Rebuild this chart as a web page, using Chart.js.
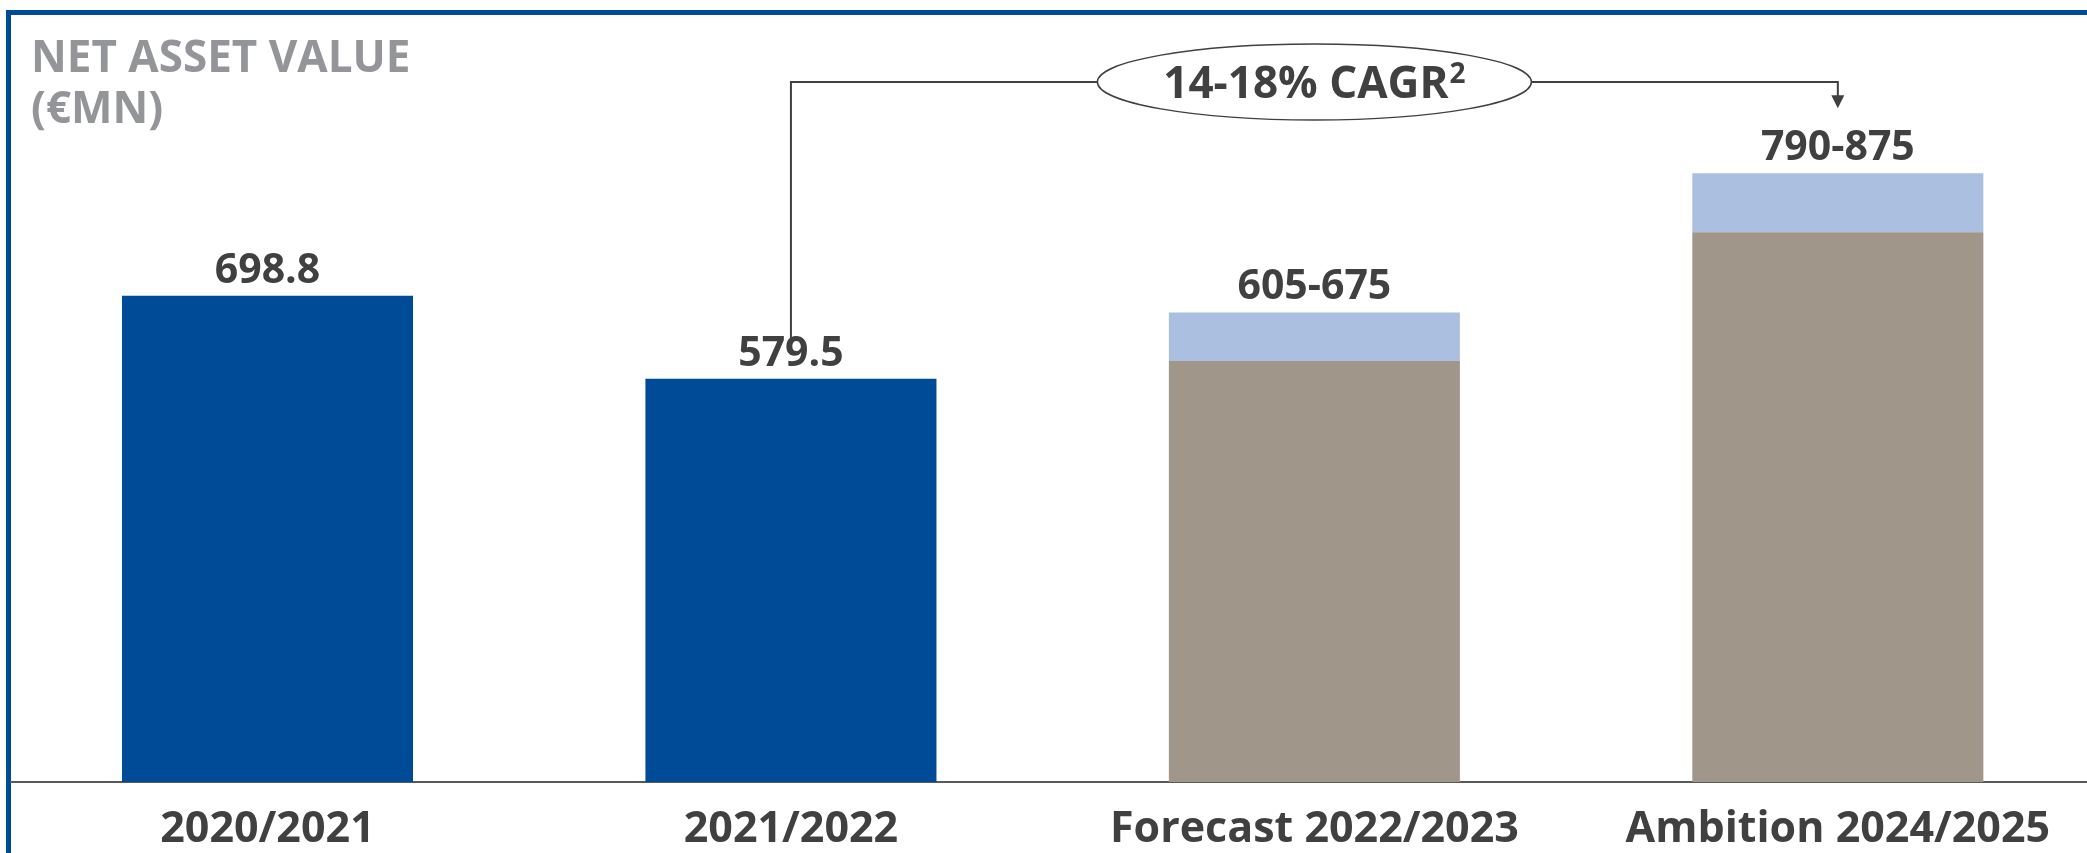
<!DOCTYPE html>
<html>
<head>
<meta charset="utf-8">
<title>Net asset value</title>
<script src="https://cdn.jsdelivr.net/npm/chart.js@4.4.0/dist/chart.umd.min.js"></script>
<style>
  html, body { margin: 0; padding: 0; background: #fff; overflow: hidden; }
  #wrap { position: relative; width: 2087px; height: 853px; overflow: hidden; }
  #frame { position: absolute; left: 6px; top: 10px; width: 2300px; height: 1000px;
           border-left: 5px solid #004b98; border-top: 5px solid #004b98; }
  #navChart { position: absolute; left: 0; top: 0; }
</style>
</head>
<body>
<div id="wrap">
  <div id="frame"></div>
  <!-- taller than the wrapper so the category labels sit low under the baseline -->
  <canvas id="navChart" width="2087" height="877"></canvas>
</div>
<script>
const categories = ["2020/2021", "2021/2022", "Forecast 2022/2023", "Ambition 2024/2025"];
const reported = [698.8, 579.5, null, null];
const rangeLow = [null, null, 605, 790];
const rangeHigh = [null, null, 675, 875];
const titleLines = ["NET ASSET VALUE", "(€MN)"];
const cagrText = "14-18% CAGR";
const cagrNote = "2";

const FONT = "'Open Sans', 'Noto Sans', sans-serif";
const DARK = "#404040";

function point(arr, i) { return { x: i, y: arr[i] }; }
const idx = categories.map((c, i) => i);

function labelFor(i) {
    if (reported[i] != null) return reported[i].toFixed(1);
    return rangeLow[i] + "-" + rangeHigh[i];
}

// value labels above each stack
const barLabels = {
    id: "barLabels",
    afterDatasetsDraw(chart) {
        const ctx = chart.ctx;
        ctx.save();
        ctx.font = "bold 41px " + FONT;
        ctx.fillStyle = DARK;
        ctx.textAlign = "center";
        ctx.textBaseline = "alphabetic";
        idx.forEach(i => {
            const ds = reported[i] != null ? 0 : 2;
            const bar = chart.getDatasetMeta(ds).data[i];
            ctx.fillText(labelFor(i), bar.x, bar.y - 13);
        });
        ctx.restore();
    }
};

// heading in the top left corner
const heading = {
    id: "heading",
    afterDraw(chart) {
        const ctx = chart.ctx;
        ctx.save();
        ctx.font = "bold 44px " + FONT;
        ctx.fillStyle = "#939598";
        ctx.textBaseline = "alphabetic";
        ctx.fillText(titleLines[0], 31, 72);
        ctx.fillText(titleLines[1], 31, 123);
        ctx.restore();
    }
};

// growth bracket from 2021/2022 to the 2024/2025 ambition
const cagrBracket = {
    id: "cagrBracket",
    afterDatasetsDraw(chart) {
        const ctx = chart.ctx;
        const xs = chart.scales.x, ys = chart.scales.y;
        const lineY = 82;
        const fromX = xs.getPixelForValue(1);
        const toX = xs.getPixelForValue(3);
        const midX = xs.getPixelForValue(2);
        const fromY = ys.getPixelForValue(reported[1]) - 38;
        const tipY = ys.getPixelForValue(rangeHigh[3]) - 65;

        ctx.save();
        ctx.strokeStyle = DARK;
        ctx.lineWidth = 2;
        ctx.beginPath();
        ctx.moveTo(fromX, fromY);
        ctx.lineTo(fromX, lineY);
        ctx.lineTo(toX, lineY);
        ctx.lineTo(toX, tipY - 12);
        ctx.stroke();

        ctx.fillStyle = DARK;
        ctx.beginPath();
        ctx.moveTo(toX - 6.5, tipY - 13);
        ctx.lineTo(toX + 6.5, tipY - 13);
        ctx.lineTo(toX, tipY);
        ctx.closePath();
        ctx.fill();

        ctx.beginPath();
        ctx.ellipse(midX, lineY, 217, 38, 0, 0, Math.PI * 2);
        ctx.fillStyle = "#fff";
        ctx.fill();
        ctx.lineWidth = 1.5;
        ctx.stroke();

        ctx.font = "bold 44px " + FONT;
        const wMain = ctx.measureText(cagrText).width;
        ctx.font = "bold 28px " + FONT;
        const wSup = ctx.measureText(cagrNote).width;
        const startX = midX - (wMain + 1 + wSup) / 2;
        ctx.fillStyle = DARK;
        ctx.textAlign = "left";
        ctx.textBaseline = "alphabetic";
        ctx.font = "bold 44px " + FONT;
        ctx.fillText(cagrText, startX, lineY + 16);
        ctx.font = "bold 28px " + FONT;
        ctx.fillText(cagrNote, startX + wMain + 1, lineY + 1);
        ctx.restore();
    }
};

new Chart(document.getElementById("navChart"), {
    type: "bar",
    data: {
        datasets: [
            { label: "Reported", data: idx.map(i => point(reported, i)), backgroundColor: "#004b98" },
            { label: "Low end", data: idx.map(i => point(rangeLow, i)), backgroundColor: "#a0968a" },
            { label: "Range", data: idx.map(i => ({ x: i, y: rangeHigh[i] == null ? null : rangeHigh[i] - rangeLow[i] })),
              backgroundColor: "#abc0e1" }
        ]
    },
    options: {
        responsive: false,
        animation: false,
        events: [],
        layout: { padding: { left: 11, right: 0, top: 0, bottom: 0 } },
        datasets: { bar: { categoryPercentage: 1, barPercentage: 0.556, borderWidth: 0 } },
        plugins: { legend: { display: false }, tooltip: { enabled: false } },
        scales: {
            x: {
                type: "linear",
                stacked: true,
                offset: false,
                min: -0.49,
                max: 3.476,
                afterBuildTicks: scale => { scale.ticks = idx.map(i => ({ value: i })); },
                grid: { display: false, drawTicks: false },
                border: { display: true, color: "#595959", width: 2 },
                ticks: {
                    autoSkip: false,
                    maxRotation: 0,
                    padding: 21.7,
                    color: DARK,
                    font: { family: FONT, size: 43, weight: "bold", lineHeight: 1.2 },
                    callback: v => categories[v]
                }
            },
            y: {
                stacked: true,
                display: false,
                min: 0,
                max: 1124
            }
        }
    },
    plugins: [barLabels, cagrBracket, heading]
});
</script>
</body>
</html>
